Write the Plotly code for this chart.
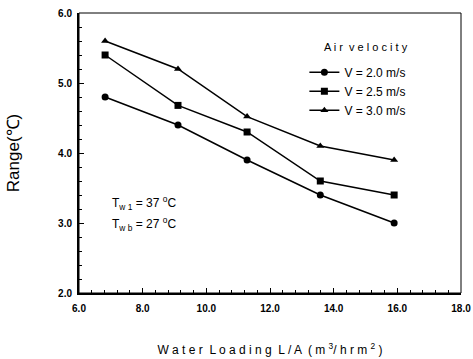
import plotly.graph_objects as go

water_loading = [6.82, 9.11, 11.28, 13.58, 15.9]
range_v20 = [4.8, 4.4, 3.9, 3.4, 3.0]
range_v25 = [5.4, 4.68, 4.3, 3.6, 3.4]
range_v30 = [5.6, 5.2, 4.52, 4.1, 3.9]
series_names = ["V = 2.0 m/s", "V = 2.5 m/s", "V = 3.0 m/s"]
x_ticks = [6, 8, 10, 12, 14, 16, 18]
x_tick_labels = ["6.0", "8.0", "10.0", "12.0", "14.0", "16.0", "18.0"]
y_ticks = [2, 3, 4, 5, 6]
y_tick_labels = ["2.0", "3.0", "4.0", "5.0", "6.0"]

symbols = ["circle", "square", "triangle-up"]
fig = go.Figure()
for name, ys, sym in zip(series_names, [range_v20, range_v25, range_v30], symbols):
    fig.add_trace(go.Scatter(
        x=water_loading, y=ys, name=name, mode="lines+markers",
        line=dict(color="#000000", width=1.5),
        marker=dict(symbol=sym, size=7, color="#000000"),
    ))

font = "Liberation Sans, Arial, sans-serif"
axis_common = dict(
    showline=True, linewidth=2, linecolor="#000000", ticks="inside", ticklen=5,
    tickcolor="#000000", showgrid=False, zeroline=False, automargin=False,
    tickfont=dict(family=font, size=10, color="#000000", weight="bold"),
)
fig.update_xaxes(
    range=[6, 18], tickvals=x_ticks, ticktext=x_tick_labels, ticklabelstandoff=5,
    minor=dict(ticks="inside", ticklen=3, dtick=0.4, tickcolor="#000000"),
    title=dict(text="W a t e r  L o a d i n g  L / A  ( m <sup>3</sup>/ h r m <sup>2</sup> )",
               font=dict(family=font, size=12, color="#000000"), standoff=33),
    **axis_common,
)
fig.update_yaxes(
    range=[2, 6], tickvals=y_ticks, ticktext=y_tick_labels, ticklabelstandoff=3,
    minor=dict(ticks="inside", ticklen=3, dtick=0.2, tickcolor="#000000"),
    title=dict(text="Range(℃)", font=dict(family=font, size=17, color="#000000"), standoff=34),
    **axis_common,
)
fig.add_shape(type="rect", xref="paper", yref="paper", x0=0, x1=1, y0=0, y1=1,
              line=dict(color="#000000", width=1))
fig.add_annotation(text="A i r  v e l o c i t y", xref="paper", yref="paper",
                   x=0.75, y=0.88, xanchor="center", yanchor="middle", showarrow=False,
                   font=dict(family=font, size=11, color="#000000"))
fig.add_annotation(text="T<sub>w 1</sub> = 37 <sup>o</sup>C", xref="paper", yref="paper",
                   x=0.08, y=0.32, xanchor="left", yanchor="middle", showarrow=False,
                   font=dict(family=font, size=12, color="#000000"))
fig.add_annotation(text="T<sub>w b</sub> = 27 <sup>o</sup>C", xref="paper", yref="paper",
                   x=0.08, y=0.245, xanchor="left", yanchor="middle", showarrow=False,
                   font=dict(family=font, size=12, color="#000000"))
fig.update_layout(
    width=473, height=359,
    margin=dict(l=79, r=12, t=13, b=66),
    paper_bgcolor="white", plot_bgcolor="white",
    showlegend=True,
    legend=dict(x=0.59, y=0.84, xanchor="left", yanchor="top",
                font=dict(family=font, size=12, color="#000000"),
                bgcolor="rgba(0,0,0,0)", tracegroupgap=0, itemwidth=30),
)
fig.write_html("out.html")
